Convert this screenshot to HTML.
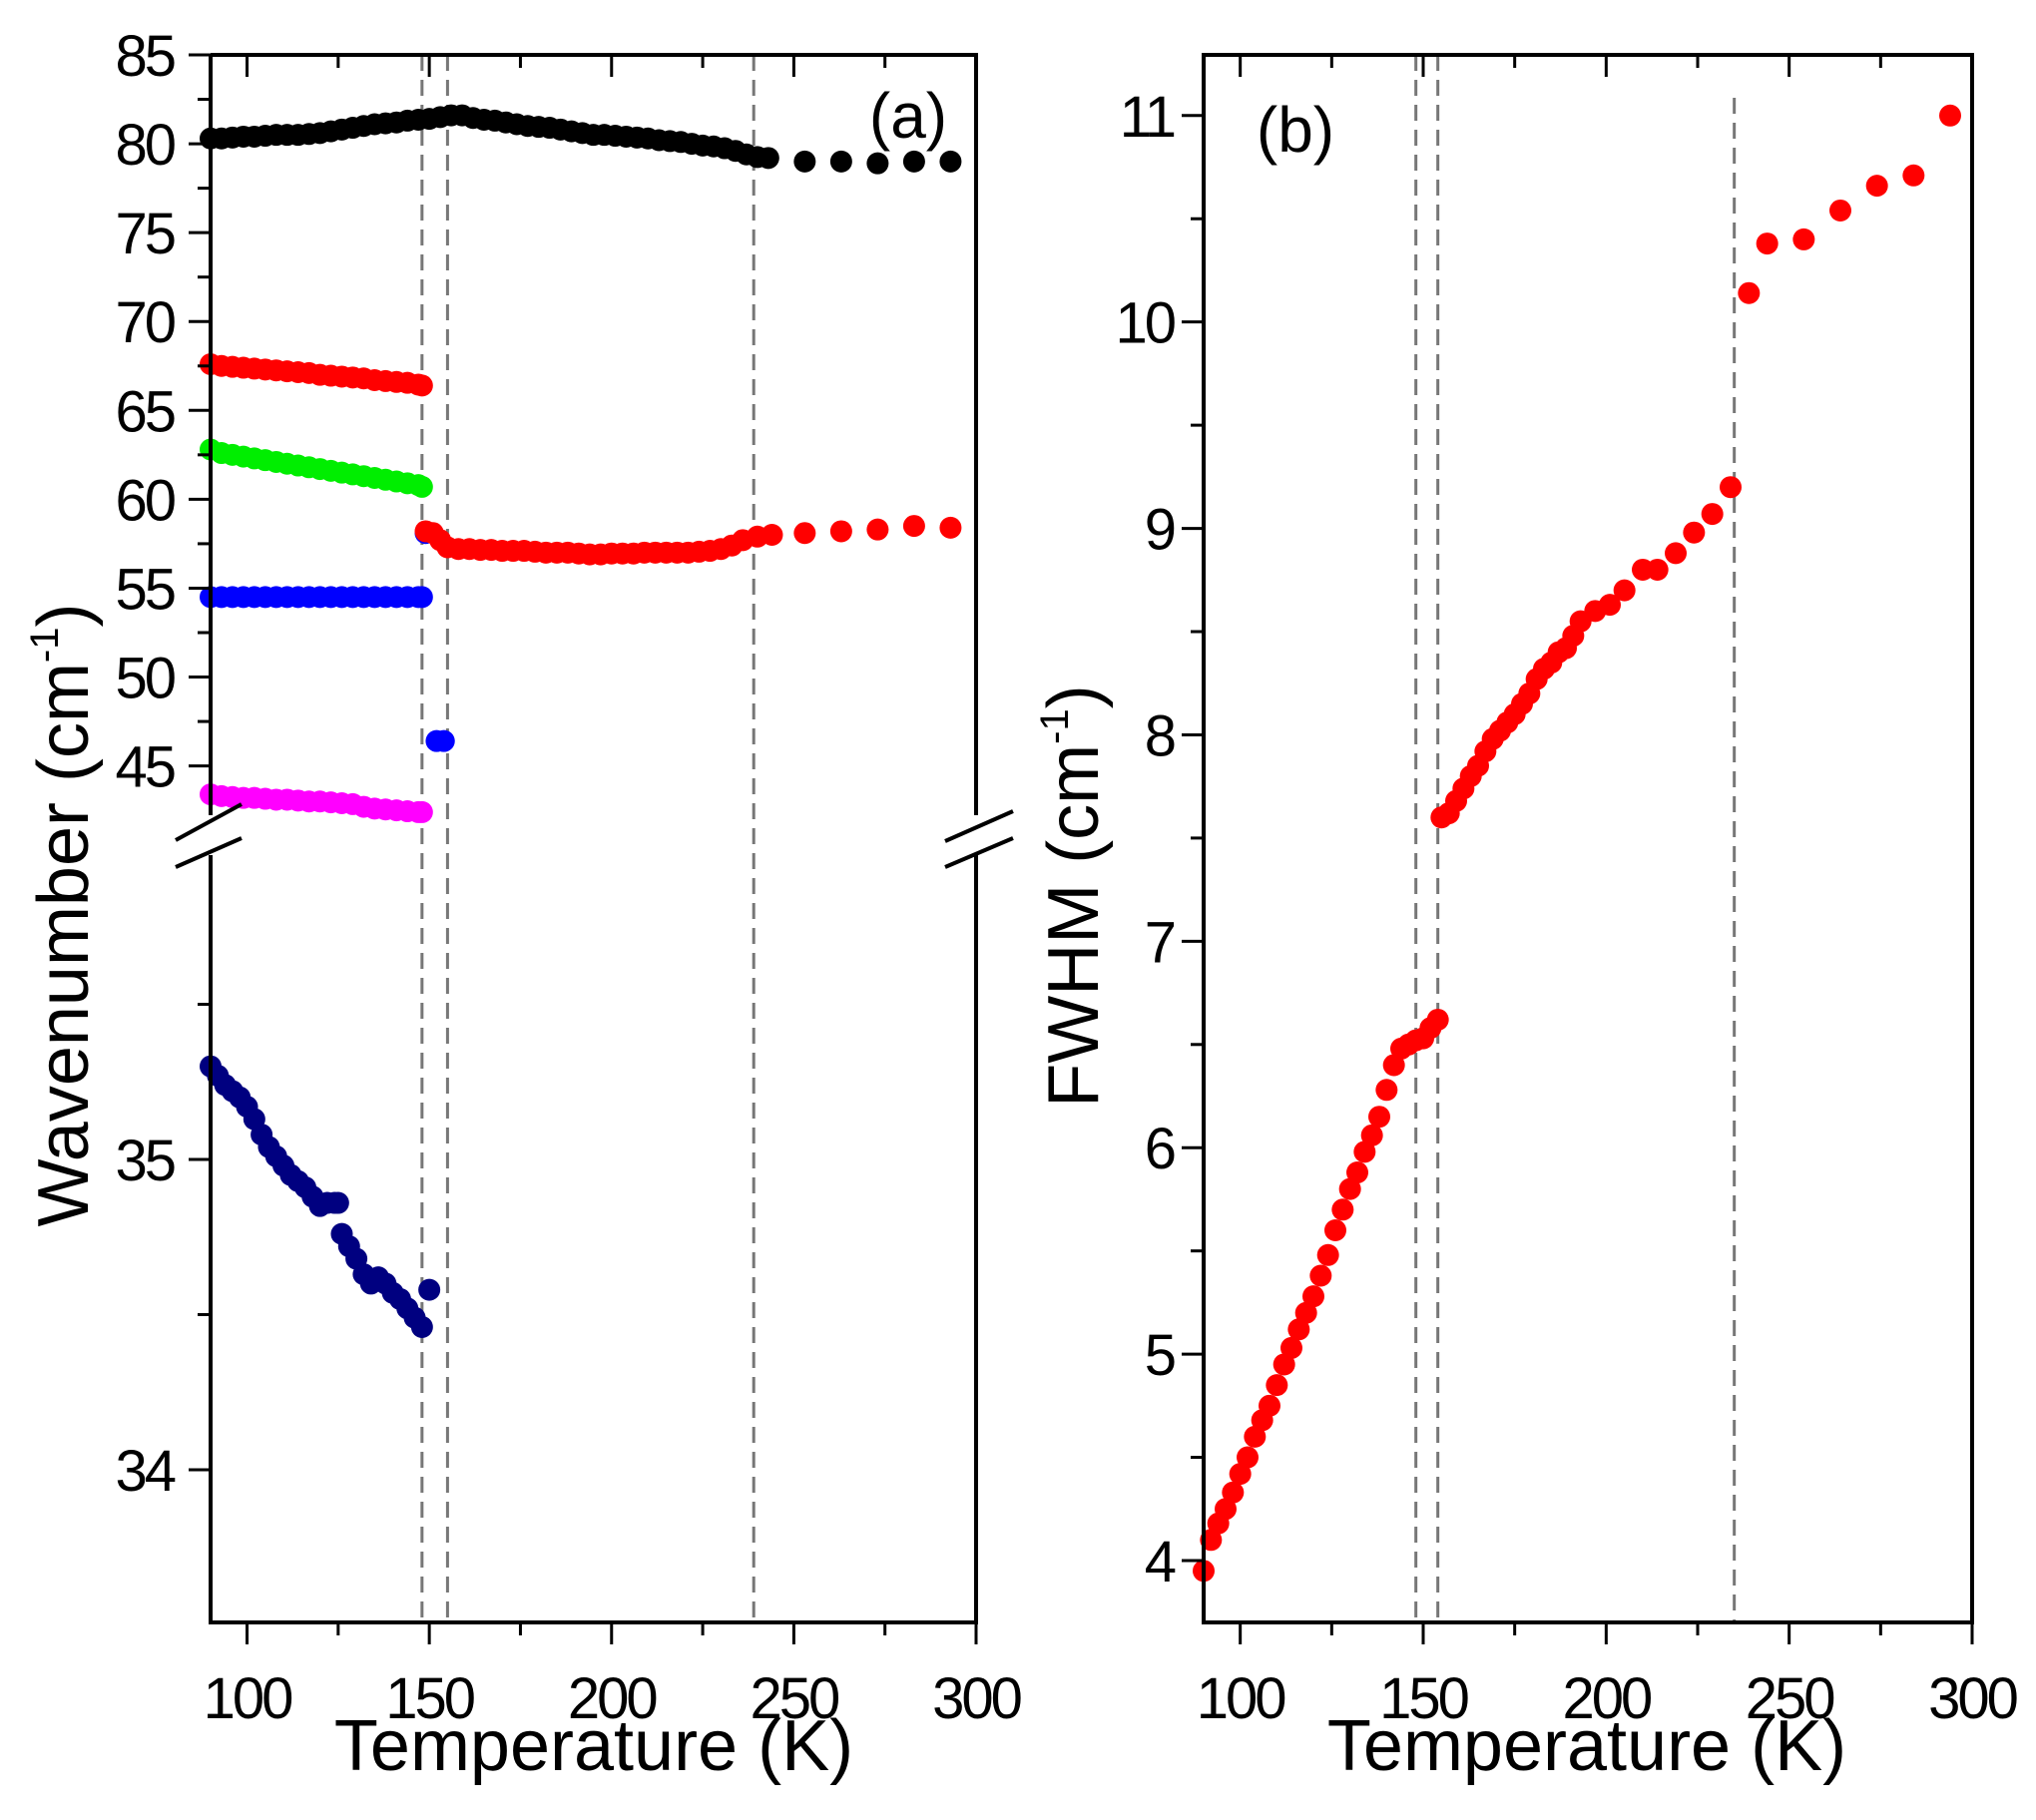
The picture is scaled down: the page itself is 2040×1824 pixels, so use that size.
<!DOCTYPE html>
<html><head><meta charset="utf-8">
<style>
html,body{margin:0;padding:0;background:#fff;}
svg{display:block;}
text{font-family:"Liberation Sans",Arial,sans-serif;fill:#000;}
</style></head>
<body>
<svg id="chart" width="2040" height="1824" viewBox="0 0 2040 1824" xmlns="http://www.w3.org/2000/svg"></svg>
<script>
// ---- Panel (a) data ----
const blackT = [90,93,96,99,102,105,108,111,114,117,120,123,126,129,132,135,138,141,144,147,150,153,156,159,162,165,168,171,174,177,180,183,186,189,192,195,198,201,204,207,210,213,216,219,222,225,228,231,234,237,240,243,253,263,273,283,293];
const blackV = [80.3,80.3,80.35,80.4,80.4,80.45,80.5,80.5,80.5,80.55,80.6,80.7,80.8,80.9,81.0,81.1,81.15,81.2,81.3,81.35,81.4,81.5,81.6,81.6,81.45,81.35,81.3,81.2,81.1,81.0,80.95,80.9,80.8,80.7,80.6,80.5,80.5,80.45,80.4,80.35,80.3,80.2,80.15,80.1,80.0,79.9,79.85,79.75,79.6,79.4,79.25,79.2,79.0,79.0,78.9,79.0,79.0];
const redHiT = [90,93,96,99,102,105,108,111,114,117,120,123,126,129,132,135,138,141,144,147,148];
const redHiV = [67.6,67.5,67.45,67.4,67.35,67.3,67.25,67.2,67.15,67.1,67.0,66.95,66.9,66.85,66.8,66.7,66.65,66.6,66.55,66.45,66.4];
const greenT = [90,93,96,99,102,105,108,111,114,117,120,123,126,129,132,135,138,141,144,147,148];
const greenV = [62.8,62.6,62.5,62.4,62.3,62.2,62.1,62.0,61.9,61.8,61.7,61.6,61.5,61.4,61.3,61.2,61.1,61.0,60.9,60.8,60.7];
const blueT = [90,93,96,99,102,105,108,111,114,117,120,123,126,129,132,135,138,141,144,147,148];
const blueV = [54.5,54.5,54.5,54.5,54.5,54.5,54.5,54.5,54.5,54.5,54.5,54.5,54.5,54.5,54.5,54.5,54.5,54.5,54.5,54.5,54.5];
const blueExtraT = [149,152,154];
const blueExtraV = [58.1,46.4,46.4];
const magentaT = [90,93,96,99,102,105,108,111,114,117,120,123,126,129,132,135,138,141,144,147,148];
const magentaV = [43.4,43.3,43.25,43.2,43.2,43.15,43.1,43.1,43.05,43.0,43.0,42.95,42.9,42.85,42.7,42.6,42.55,42.5,42.45,42.4,42.4];
const redLoT = [149,151,153,155,158,161,164,167,170,173,176,179,182,185,188,191,194,197,200,203,206,209,212,215,218,221,224,227,230,233,236,240,244,253,263,273,283,293];
const redLoV = [58.2,58.1,57.7,57.3,57.2,57.2,57.15,57.15,57.1,57.1,57.1,57.05,57.0,57.0,57.0,56.95,56.9,56.9,56.95,56.95,56.95,57.0,57.0,57.0,57.0,57.0,57.05,57.1,57.2,57.4,57.7,57.9,58.0,58.1,58.2,58.3,58.5,58.4];
const navyT = [90,92,94,96,98,100,102,104,106,108,110,112,114,116,118,120,122,124,125,126,128,130,132,134,136,138,140,142,144,146,148,150];
const navyV = [35.30,35.27,35.24,35.22,35.20,35.17,35.13,35.08,35.04,35.01,34.98,34.95,34.93,34.91,34.88,34.85,34.86,34.86,34.86,34.76,34.72,34.68,34.63,34.60,34.62,34.60,34.57,34.55,34.52,34.49,34.46,34.58];
// ---- Panel (b) data ----
const fwT = [90,92,94,96,98,100,102,104,106,108,110,112,114,116,118,120,122,124,126,128,130,132,134,136,138,140,142,144,146,148,150,152,154,155,157,159,161,163,165,167,169,171,173,175,177,179,181,183,185,187,189,191,193,197,201,205,210,214,219,224,229,234,239,244,254,264,274,284,294];
const fwV = [3.95,4.1,4.18,4.25,4.33,4.42,4.5,4.6,4.68,4.75,4.85,4.95,5.03,5.12,5.2,5.28,5.38,5.48,5.6,5.7,5.8,5.88,5.98,6.06,6.15,6.28,6.4,6.48,6.5,6.52,6.53,6.58,6.62,7.6,7.62,7.68,7.74,7.8,7.85,7.92,7.98,8.02,8.06,8.1,8.15,8.2,8.27,8.32,8.35,8.4,8.42,8.48,8.55,8.6,8.63,8.7,8.8,8.8,8.88,8.98,9.07,9.2,10.14,10.38,10.4,10.54,10.66,10.71,11.0];
const aYTicksHi = [45,50,55,60,65,70,75,80,85];
const aYTicksLo = [34,35];
const bYTicks = [4,5,6,7,8,9,10,11];
const xTicks = [100,150,200,250,300];
const aDashT = [148,155,239];
const bDashT = [148,154,235];

const NS = "http://www.w3.org/2000/svg";
const svg = document.getElementById('chart');
function el(tag, attrs, parent){ const e=document.createElementNS(NS,tag); for(const k in attrs) e.setAttribute(k,attrs[k]); (parent||svg).appendChild(e); return e; }

function lin(d0,d1,r0,r1){ return v => r0 + (v-d0)*(r1-r0)/(d1-d0); }
const axA = lin(90,300,211,978);
const ayHi = lin(45,85,767.6,55);
const ayLo = lin(34,35,1473,1162);
const axB = lin(90,300,1206,1976);
const ayB = lin(4,11,1564,115.8);
const R = 11;
const FS = 58;

function dashes(g, xf, list, topY, botY, name){
  list.forEach((t,i)=>{
    const l = el('line',{x1:xf(t),x2:xf(t),y1:topY[i],y2:botY,stroke:'#777','stroke-width':3,'stroke-dasharray':'16,9'},g);
    
    
  });
}
function series(g, T, V, xf, yf, color, name){
  const sg = el('g',{},g);
  
  
  T.forEach((t,i)=>{
    const c = el('circle',{cx:xf(t),cy:yf(V[i]),r:R,fill:color},sg);
    
    
  });
}

// ---------- Panel A ----------
const gA = el('g',{});


dashes(gA, axA, aDashT, [55,55,55], 1626, 'panel-a-transition-line');
series(gA, blackT, blackV, axA, ayHi, '#000', 'black-mode-series');
series(gA, redHiT, redHiV, axA, ayHi, '#ff0000', 'red-mode-high-series');
series(gA, greenT, greenV, axA, ayHi, '#00ee00', 'green-mode-series');
series(gA, blueT, blueV, axA, ayHi, '#0000ff', 'blue-mode-series');
series(gA, blueExtraT, blueExtraV, axA, ayHi, '#0000ff', 'blue-extra-series');
series(gA, redLoT, redLoV, axA, ayHi, '#ff0000', 'red-mode-low-series');
series(gA, magentaT, magentaV, axA, ayHi, '#ff00ff', 'magenta-mode-series');
series(gA, navyT, navyV, axA, ayLo, '#000080', 'navy-mode-series');
el('path',{d:'M211,55 H978 V817 M978,857 V1626 H211 V857 M211,817 V55',fill:'none',stroke:'#000','stroke-width':4},gA);
[[176,842,242,806],[176,869,242,840],[947,843,1015,813],[947,869,1015,840]].forEach(s=>{
  const b=el('line',{x1:s[0],y1:s[1],x2:s[2],y2:s[3],stroke:'#000','stroke-width':4},gA);
  
  
});
for(let v=45; v<=85; v+=2.5){ const maj = (v%5===0); el('line',{x1:211,x2:211-(maj?22:13),y1:ayHi(v),y2:ayHi(v),stroke:'#000','stroke-width':3},gA); }
aYTicksHi.forEach(v=>{ const t=el('text',{x:174,y:ayHi(v)+21,'text-anchor':'end','font-size':FS,'letter-spacing':-3},gA); t.textContent=v;   });
for(let v=34; v<=35.5; v+=0.5){ const maj = (v%1===0); el('line',{x1:211,x2:211-(maj?22:13),y1:ayLo(v),y2:ayLo(v),stroke:'#000','stroke-width':3},gA); }
aYTicksLo.forEach(v=>{ const t=el('text',{x:174,y:ayLo(v)+21,'text-anchor':'end','font-size':FS,'letter-spacing':-3},gA); t.textContent=v;   });
for(let v=100; v<=300; v+=25){ const maj=(v%50===0); const x=axA(v);
  el('line',{x1:x,x2:x,y1:1626,y2:1626+(maj?22:13),stroke:'#000','stroke-width':3},gA);
  el('line',{x1:x,x2:x,y1:55,y2:55+(maj?22:13),stroke:'#000','stroke-width':3},gA); }
xTicks.forEach(v=>{ const t=el('text',{x:axA(v),y:1722,'text-anchor':'middle','font-size':FS,'letter-spacing':-3},gA); t.textContent=v;   });
let t;
t=el('text',{x:595,y:1774,'text-anchor':'middle','font-size':72},gA); t.textContent='Temperature (K)';
 
t=el('text',{x:910,y:138,'text-anchor':'middle','font-size':64},gA); t.textContent='(a)';
 
t=el('text',{transform:'translate(88,917) rotate(-90)','text-anchor':'middle','font-size':72},gA);
t.innerHTML='Wavenumber (cm<tspan dy="-30" font-size="40">-1</tspan><tspan dy="30">)</tspan>';
 

// ---------- Panel B ----------
const gB = el('g',{});


dashes(gB, axB, bDashT, [55,55,98], 1626, 'panel-b-transition-line');
series(gB, fwT, fwV, axB, ayB, '#ff0000', 'fwhm-series');
el('rect',{x:1206,y:55,width:770,height:1571,fill:'none',stroke:'#000','stroke-width':4},gB);
for(let v=4; v<=11; v+=0.5){ const maj=(v%1===0); el('line',{x1:1206,x2:1206-(maj?22:13),y1:ayB(v),y2:ayB(v),stroke:'#000','stroke-width':3},gB); }
bYTicks.forEach(v=>{ const tt=el('text',{x:1176,y:ayB(v)+21,'text-anchor':'end','font-size':FS,'letter-spacing':-3},gB); tt.textContent=v;   });
for(let v=100; v<=300; v+=25){ const maj=(v%50===0); const x=axB(v);
  el('line',{x1:x,x2:x,y1:1626,y2:1626+(maj?22:13),stroke:'#000','stroke-width':3},gB);
  el('line',{x1:x,x2:x,y1:55,y2:55+(maj?22:13),stroke:'#000','stroke-width':3},gB); }
xTicks.forEach(v=>{ const tt=el('text',{x:axB(v),y:1722,'text-anchor':'middle','font-size':FS,'letter-spacing':-3},gB); tt.textContent=v;   });
t=el('text',{x:1590,y:1774,'text-anchor':'middle','font-size':72},gB); t.textContent='Temperature (K)';
 
t=el('text',{x:1298,y:152,'text-anchor':'middle','font-size':64},gB); t.textContent='(b)';
 
t=el('text',{transform:'translate(1100,898) rotate(-90)','text-anchor':'middle','font-size':72},gB);
t.innerHTML='FWHM (cm<tspan dy="-30" font-size="40">-1</tspan><tspan dy="30">)</tspan>';
 
</script>
</body></html>
